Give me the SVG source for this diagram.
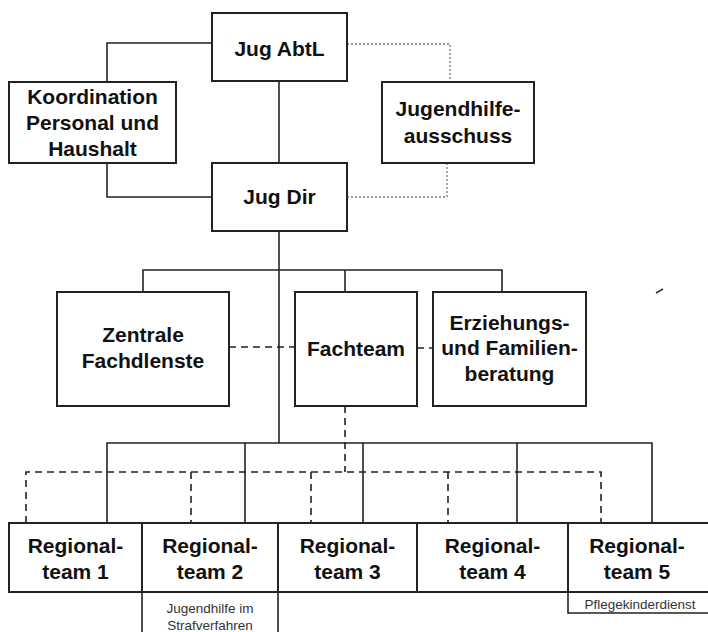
<svg xmlns="http://www.w3.org/2000/svg" width="708" height="632" viewBox="0 0 708 632">
<style>
.box{fill:#fff;stroke:#222;stroke-width:2}
.t{font-family:"Liberation Sans",Arial,sans-serif;font-weight:bold;font-size:21px;fill:#111;text-anchor:middle}
.s{font-family:"Liberation Sans",Arial,sans-serif;font-size:13.5px;fill:#333;text-anchor:middle}
.ln{fill:none;stroke:#222;stroke-width:1.6}
.dot{fill:none;stroke:#777;stroke-width:1.3;stroke-dasharray:2 2}
.dash{fill:none;stroke:#222;stroke-width:1.6;stroke-dasharray:7 5}
</style>
<rect width="708" height="632" fill="#fff"/>
<g id="connectors">
<path class="ln" d="M212 43 H107 V82"/>
<path class="ln" d="M107 163 V197 H212"/>
<path class="ln" d="M279 81 V163"/>
<path class="ln" d="M279 231 V443"/>
<path class="dot" d="M347 44 H450 V82"/>
<path class="dot" d="M447 163 V197 H347"/>
<path class="ln" d="M143 292 V270 H502 V292"/>
<path class="ln" d="M345 270 V292"/>
<path class="dash" d="M229 347 H295"/>
<path class="dash" d="M417 348 H433"/>
<path class="dash" d="M345 406 V472"/>
<path class="ln" d="M107 523 V443 H652 V523"/>
<path class="ln" d="M245 443 V523 M363 443 V523 M517 443 V523"/>
<path class="dash" d="M26 523 V472 H601 V523"/>
<path class="dash" d="M191 472 V523 M311 472 V523 M448 472 V523"/>
</g>
<g id="jug-abtl"><rect class="box" x="212" y="13" width="135" height="68"/><text class="t" x="279.5" y="55.5">Jug AbtL</text></g>
<g id="koordination"><rect class="box" x="9" y="82" width="167" height="81"/><text class="t" x="92.5" y="104">Koordination</text><text class="t" x="92.5" y="130">Personal und</text><text class="t" x="92.5" y="156">Haushalt</text></g>
<g id="jugendhilfeausschuss"><rect class="box" x="382" y="82" width="152" height="81"/><text class="t" x="458" y="116">Jugendhilfe-</text><text class="t" x="458" y="143">ausschuss</text></g>
<g id="jug-dir"><rect class="box" x="212" y="163" width="135" height="68"/><text class="t" x="279.5" y="204">Jug Dir</text></g>
<g id="zentrale"><rect class="box" x="57" y="292" width="172" height="114"/><text class="t" x="143" y="342">Zentrale</text><text class="t" x="143" y="368">Fachdlenste</text></g>
<g id="fachteam"><rect class="box" x="295" y="292" width="122" height="114"/><text class="t" x="356" y="355.5">Fachteam</text></g>
<g id="erziehung"><rect class="box" x="433" y="292" width="153" height="114"/><text class="t" x="509.5" y="329.5">Erziehungs-</text><text class="t" x="509.5" y="355">und Familien-</text><text class="t" x="509.5" y="380.5">beratung</text></g>
<g id="rt1"><rect class="box" x="9" y="523" width="133" height="69"/><text class="t" x="75.5" y="552.5">Regional-</text><text class="t" x="75.5" y="578.5">team 1</text></g>
<g id="rt2"><rect class="box" x="142" y="523" width="136" height="69"/><text class="t" x="210" y="552.5">Regional-</text><text class="t" x="210" y="578.5">team 2</text></g>
<g id="rt2-sub"><path class="ln" d="M142 592 V632 M278 592 V632"/><text class="s" x="210" y="613">Jugendhilfe im</text><text class="s" x="210" y="630">Strafverfahren</text></g>
<g id="rt3"><rect class="box" x="278" y="523" width="139" height="69"/><text class="t" x="347.5" y="552.5">Regional-</text><text class="t" x="347.5" y="578.5">team 3</text></g>
<g id="rt4"><rect class="box" x="417" y="523" width="151" height="69"/><text class="t" x="492.5" y="552.5">Regional-</text><text class="t" x="492.5" y="578.5">team 4</text></g>
<g id="rt5"><rect class="box" x="568" y="523" width="142" height="69"/><text class="t" x="637" y="552.5">Regional-</text><text class="t" x="637" y="578.5">team 5</text></g>
<g id="rt5-sub"><path class="ln" d="M568 592 V613 H708"/><text class="s" x="640" y="609">Pflegekinderdienst</text></g>
<path d="M656 293 L663 289" stroke="#333" stroke-width="1.6" fill="none"/>
</svg>
